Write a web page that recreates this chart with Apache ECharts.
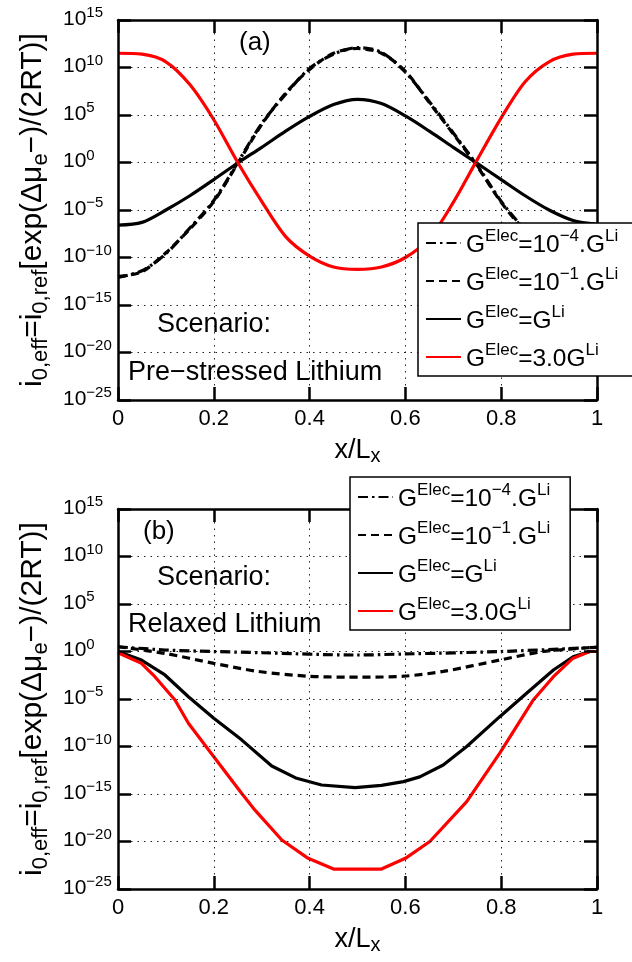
<!DOCTYPE html>
<html>
<head>
<meta charset="utf-8">
<title>i0,eff</title>
<script src="https://cdn.jsdelivr.net/npm/echarts@6/dist/echarts.min.js"></script>
<style>
html, body { margin: 0; padding: 0; background: #fff; }
#chart { width: 632px; height: 962px; }
</style>
</head>
<body>
<div id="chart"></div>
<script>
var xA = [0, 0.05, 0.1, 0.15, 0.2, 0.25, 0.3, 0.35, 0.4, 0.45, 0.5, 0.55, 0.6, 0.65, 0.7, 0.75, 0.8, 0.85, 0.9, 0.95, 1];
var dashDotA = [-12.1, -11.4, -9.6, -6.9, -4.0, 0.0, 4.1, 7.2, 9.9, 11.4, 12.1, 11.6, 9.5, 6.4, 3.1, -0.3, -4.1, -7.1, -9.6, -11.3, -12.1];
var dashA = [-12.0, -11.5, -9.5, -7.0, -4.1, -0.1, 4.0, 7.3, 9.8, 11.5, 12.0, 11.5, 9.6, 6.3, 3.0, -0.4, -4.2, -7.2, -9.5, -11.4, -12.0];
var solidA = [-6.6, -6.3, -5.0, -3.5, -1.8, -0.05, 1.6, 3.3, 4.85, 6.1, 6.65, 6.2, 4.9, 3.3, 1.6, -0.1, -1.8, -3.5, -5.0, -6.1, -6.5];
var redA = [11.5, 11.4, 10.6, 8.2, 4.5, 0.0, -4.1, -7.8, -9.85, -11.0, -11.25, -11.0, -10.0, -8.0, -4.2, 0.3, 4.7, 8.5, 10.6, 11.4, 11.5];

var xDashDotB = [0, 0.098, 0.2, 0.3, 0.495, 0.6, 0.8, 1];
var dashDotB = [0.5, 0.16, 0, -0.13, -0.37, -0.26, 0, 0.44];
var xDashB = [0, 0.098, 0.2, 0.293, 0.397, 0.48, 0.505, 0.596, 0.679, 0.797, 0.888, 1];
var dashB = [0.5, -0.2, -1.25, -2.1, -2.6, -2.7, -2.7, -2.6, -2.1, -0.9, 0, 0.45];
var xSolidB = [0, 0.049, 0.098, 0.147, 0.2, 0.258, 0.321, 0.373, 0.425, 0.495, 0.55, 0.596, 0.63, 0.679, 0.728, 0.797, 0.853, 0.909, 0.95, 0.985, 1];
var solidB = [0, -0.9, -2.47, -4.76, -7.03, -9.3, -12.05, -13.35, -14.05, -14.33, -14.1, -13.7, -13.2, -11.95, -10.0, -6.86, -4.4, -1.95, -0.55, 0, 0];
var xRedB = [0, 0.049, 0.077, 0.119, 0.147, 0.2, 0.258, 0.286, 0.342, 0.397, 0.45, 0.495, 0.55, 0.6, 0.651, 0.728, 0.797, 0.867, 0.909, 0.95, 0.985, 1];
var redB = [-0.13, -1.25, -2.65, -5.1, -7.56, -11.07, -14.93, -16.7, -19.84, -21.77, -22.9, -22.9, -22.9, -21.77, -20.0, -15.8, -10.7, -5.1, -2.65, -0.7, 0, 0];

var xTicks = [0, 0.2, 0.4, 0.6, 0.8, 1];
var yTicks = [-25, -20, -15, -10, -5, 0, 5, 10, 15];

var legendNames = ['k4', 'k1', 'k0', 'k3'];
var legendText = {
    k4: '{m|G}{s|Elec}{m|=10}{s|\u22124}{m|.G}{s|Li}',
    k1: '{m|G}{s|Elec}{m|=10}{s|\u22121}{m|.G}{s|Li}',
    k0: '{m|G}{s|Elec}{m|=G}{s|Li}',
    k3: '{m|G}{s|Elec}{m|=3.0G}{s|Li}'
};

(function(){

var FONT = 'Liberation Sans, Arial, Helvetica, sans-serif';
var chart = echarts.init(document.getElementById('chart'), null, {renderer: 'canvas'});

function pairs(xs, ys) {
    return xs.map(function(x, i){ return [x, ys[i]]; });
}

function line(name, xs, ys, color, type, idx, smooth) {
    return {
        name: name,
        type: 'line',
        xAxisIndex: idx * 2,
        yAxisIndex: idx * 2,
        data: pairs(xs, ys),
        symbol: 'none',
        smooth: smooth,
        silent: true,
        lineStyle: {color: color, width: 3.2, type: type},
        itemStyle: {color: color},
        z: 2
    };
}

var dashDot = [10, 4, 2.5, 4];
var dashed = [8, 5];

function tick() {
    return {show: true, inside: true, length: 13, lineStyle: {color: '#000', width: 2.5}};
}
function border() {
    return {show: true, onZero: false, lineStyle: {color: '#000', width: 2.5}};
}
function grid() {
    return {show: true, lineStyle: {color: '#222', width: 1, type: [1.5, 5]}};
}

function xAxes(gi) {
    return [{
        gridIndex: gi, type: 'value', min: 0, max: 1, interval: 0.2, position: 'bottom',
        name: '{m|x/L}{s|x}', nameLocation: 'middle', nameGap: 27,
        nameTextStyle: {
            fontFamily: FONT, color: '#000',
            rich: {
                m: {fontSize: 27, lineHeight: 30, verticalAlign: 'top', fontFamily: FONT, color: '#000'},
                s: {fontSize: 20, lineHeight: 20, verticalAlign: 'bottom', padding: [16, 0, 0, 0], fontFamily: FONT, color: '#000'}
            }
        },
        axisLine: border(),
        axisTick: tick(),
        axisLabel: {
            margin: 8, fontSize: 22, color: '#000', fontFamily: FONT,
            formatter: function(v){ return String(Math.round(v * 10) / 10); }
        },
        splitLine: grid(),
        z: 3
    }, {
        gridIndex: gi, type: 'value', min: 0, max: 1, interval: 0.2, position: 'top',
        axisLine: border(),
        axisTick: tick(),
        axisLabel: {show: false},
        splitLine: {show: false},
        z: 3
    }];
}

function yAxes(gi) {
    return [{
        gridIndex: gi, type: 'value', min: -25, max: 15, interval: 5, position: 'left',
        name: '{m|i}{b|0,eff}{m|=i}{b|0,ref}{m|[exp(\u0394\u03bc}{b|e}{m|\u2212)/(2RT)]}',
        nameLocation: 'middle', nameRotate: 90, nameGap: 62,
        nameTextStyle: {
            fontFamily: FONT, color: '#000',
            rich: {
                m: {fontSize: 30, lineHeight: 34, verticalAlign: 'top', fontFamily: FONT, color: '#000'},
                b: {fontSize: 22, lineHeight: 22, verticalAlign: 'bottom', padding: [19, 0, 0, 0], fontFamily: FONT, color: '#000'}
            }
        },
        axisLine: border(),
        axisTick: tick(),
        axisLabel: {
            margin: 55, align: 'left', color: '#000', fontFamily: FONT,
            padding: [0, 0, 5, 0],
            formatter: function(v){
                var e = Math.round(v);
                return '{b|10}{s|' + (e < 0 ? '\u2212' + (-e) : e) + '}';
            },
            rich: {
                b: {fontSize: 21, lineHeight: 24, verticalAlign: 'bottom', fontFamily: FONT, color: '#000'},
                s: {fontSize: 15, lineHeight: 15, verticalAlign: 'top', padding: [0, 0, 15, 0], fontFamily: FONT, color: '#000'}
            }
        },
        splitLine: grid(),
        z: 3
    }, {
        gridIndex: gi, type: 'value', min: -25, max: 15, interval: 5, position: 'right',
        axisLine: border(),
        axisTick: tick(),
        axisLabel: {show: false},
        splitLine: {show: false},
        z: 3
    }];
}

function legend(left, top, padRight) {
    return {
        left: left, top: top, orient: 'vertical',
        data: legendNames,
        selectedMode: false,
        backgroundColor: '#fff',
        borderColor: '#000', borderWidth: 1.5, borderRadius: 0,
        padding: [5, padRight, 4, 7],
        itemWidth: 35, itemHeight: 14, itemGap: 8,
        itemStyle: {opacity: 0},
        formatter: function(name){ return legendText[name]; },
        textStyle: {
            fontFamily: FONT, color: '#000',
            rich: {
                m: {fontSize: 24.5, lineHeight: 30, verticalAlign: 'bottom', fontFamily: FONT, color: '#000'},
                s: {fontSize: 17, lineHeight: 17, verticalAlign: 'top', fontFamily: FONT, color: '#000'}
            }
        },
        z: 10
    };
}

function note(text, x, y, size) {
    return {
        type: 'text', x: x, y: y, z: 5, silent: true,
        style: {text: text, fill: '#000', font: size + 'px ' + FONT, textAlign: 'left', textVerticalAlign: 'middle'}
    };
}

option = {
    backgroundColor: '#fff',
    animation: false,
    grid: [
        {left: 118, top: 20, width: 479, height: 380, show: false},
        {left: 118, top: 509, width: 479, height: 380, show: false}
    ],
    xAxis: xAxes(0).concat(xAxes(1)),
    yAxis: yAxes(0).concat(yAxes(1)),
    legend: [legend(418, 223, 20), legend(350, 477, 20)],
    graphic: [
        note('(a)', 239, 43, 26),
        note('Scenario:', 157, 325, 27),
        note('Pre\u2212stressed Lithium', 128, 373, 27),
        note('(b)', 143, 532, 26),
        note('Scenario:', 157, 578, 27),
        note('Relaxed Lithium', 128, 625, 27)
    ],
    series: [
        line('k4', xA, dashDotA, '#000', dashDot, 0, 0.3),
        line('k1', xA, dashA, '#000', dashed, 0, 0.3),
        line('k0', xA, solidA, '#000', 'solid', 0, 0.3),
        line('k3', xA, redA, '#ff0000', 'solid', 0, 0.3),
        line('k4', xDashDotB, dashDotB, '#000', dashDot, 1, 0.3),
        line('k1', xDashB, dashB, '#000', dashed, 1, 0.3),
        line('k0', xSolidB, solidB, '#000', 'solid', 1, false),
        line('k3', xRedB, redB, '#ff0000', 'solid', 1, false)
    ]
};

chart.setOption(option);
})();
</script>
</body>
</html>
